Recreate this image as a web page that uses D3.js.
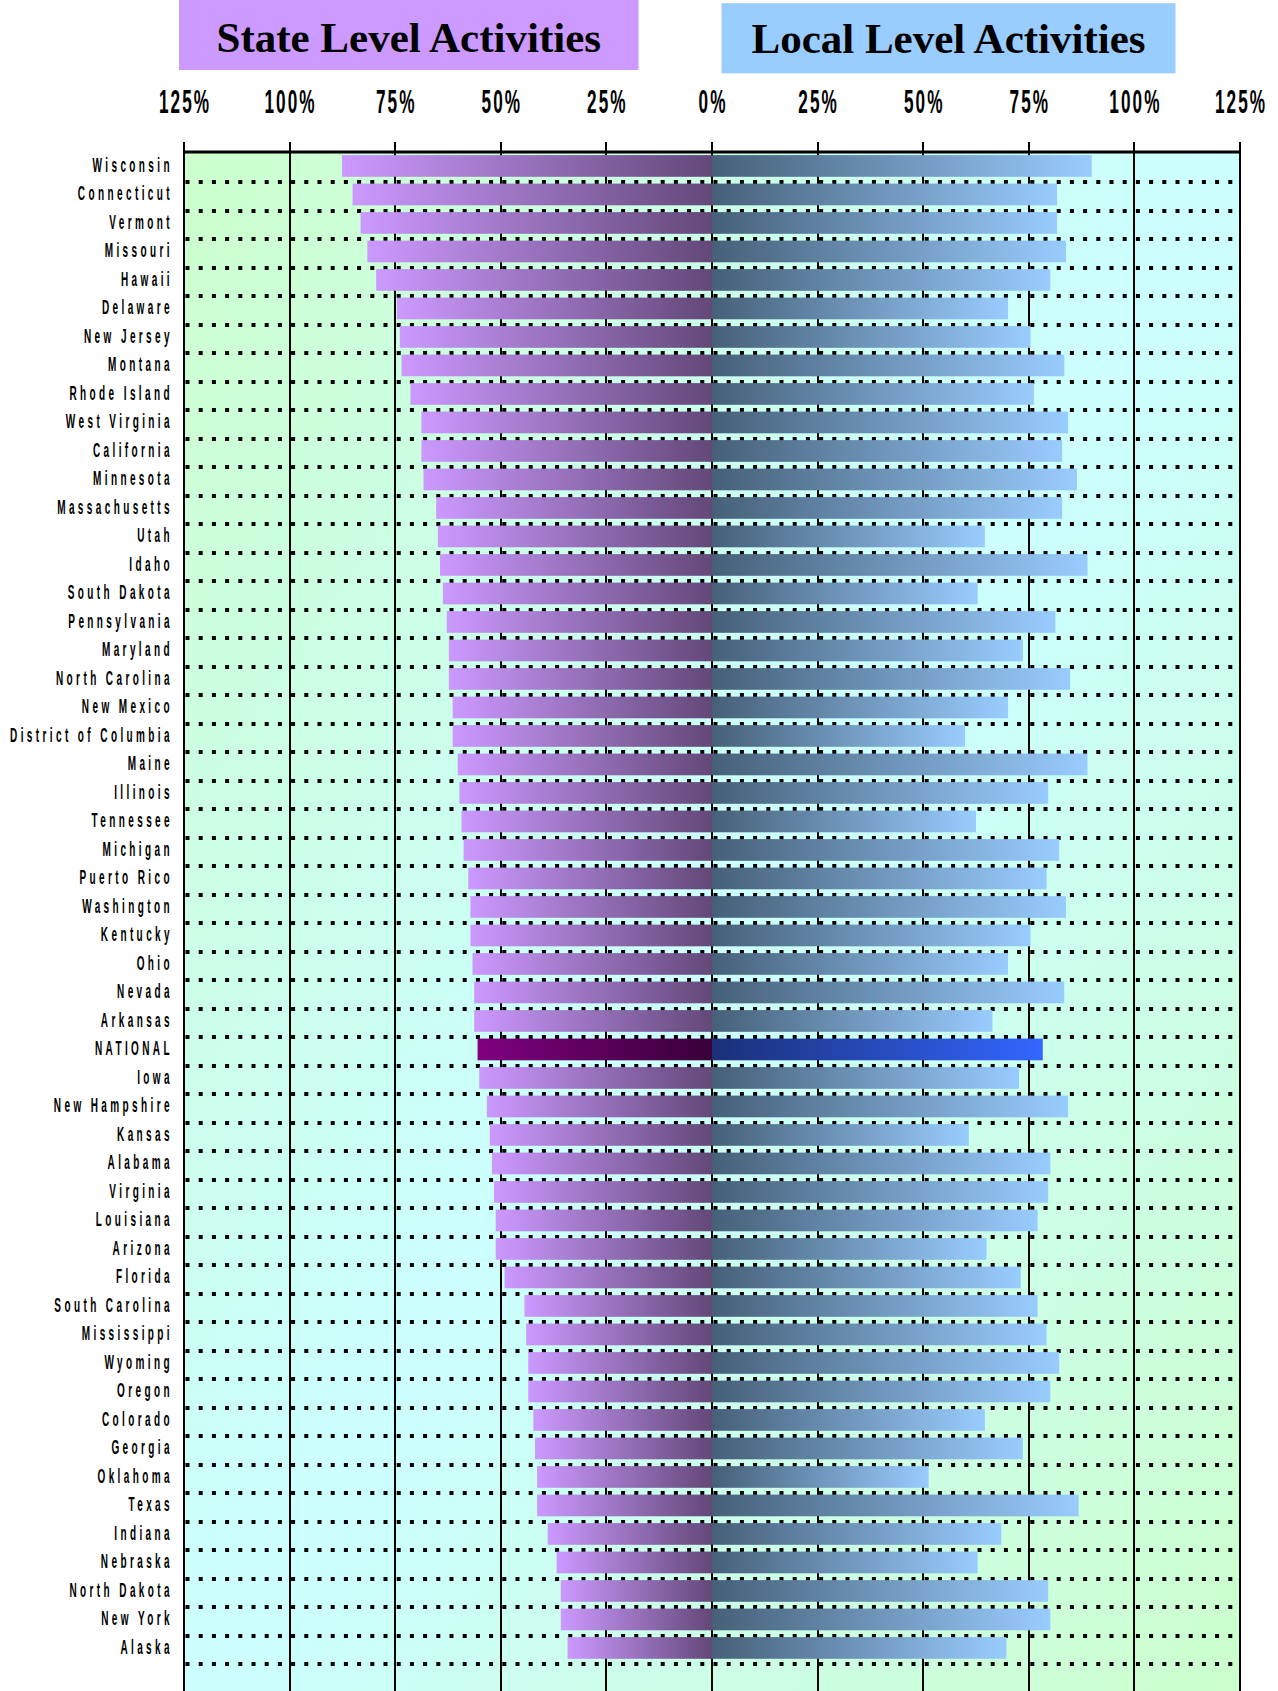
<!DOCTYPE html>
<html>
<head>
<meta charset="utf-8">
<script src="https://cdn.jsdelivr.net/npm/d3@7"></script>
<style>
  body { margin: 0; background: #ffffff; }
  svg { display: block; }
</style>
</head>
<body>
<svg id="chart"></svg>
<script>
// Rows, top to bottom
var states = ["Wisconsin", "Connecticut", "Vermont", "Missouri", "Hawaii", "Delaware", "New Jersey",
    "Montana", "Rhode Island", "West Virginia", "California", "Minnesota", "Massachusetts", "Utah",
    "Idaho", "South Dakota", "Pennsylvania", "Maryland", "North Carolina", "New Mexico",
    "District of Columbia", "Maine", "Illinois", "Tennessee", "Michigan", "Puerto Rico", "Washington",
    "Kentucky", "Ohio", "Nevada", "Arkansas", "NATIONAL", "Iowa", "New Hampshire", "Kansas", "Alabama",
    "Virginia", "Louisiana", "Arizona", "Florida", "South Carolina", "Mississippi", "Wyoming", "Oregon",
    "Colorado", "Georgia", "Oklahoma", "Texas", "Indiana", "Nebraska", "North Dakota", "New York", "Alaska"];

// % of state level activities (drawn to the left)
var stateLevel = [87.6, 85.1, 83.2, 81.6, 79.5, 74.6, 73.9, 73.5, 71.4, 68.8, 68.8, 68.3, 65.3, 64.9,
    64.4, 63.7, 62.8, 62.3, 62.3, 61.4, 61.4, 60.2, 59.8, 59.3, 58.8, 57.7, 57.2,
    57.2, 56.7, 56.3, 56.3, 55.5, 55.1, 53.3, 52.6, 52.1, 51.6, 51.2, 51.2, 49.1, 44.4, 44.0, 43.5, 43.5,
    42.3, 41.9, 41.4, 41.4, 38.9, 36.8, 35.8, 35.8, 34.2];

// % of local level activities (drawn to the right)
var localLevel = [89.9, 81.7, 81.7, 83.8, 80.1, 70.1, 75.4, 83.4, 76.2, 84.3, 82.9, 86.4, 82.9, 64.6,
    88.9, 62.9, 81.3, 73.6, 84.8, 70.1, 59.9, 88.9, 79.6, 62.5, 82.2, 79.2, 83.8,
    75.4, 70.1, 83.4, 66.4, 78.3, 72.7, 84.3, 60.8, 80.1, 79.6, 77.1, 65.0, 73.1, 77.1, 79.2, 82.2, 80.1,
    64.6, 73.6, 51.3, 86.8, 68.5, 62.9, 79.6, 80.1, 69.7];

var tickValues = [-125, -100, -75, -50, -25, 0, 25, 50, 75, 100, 125];
var tickLabels = ["125%", "100%", "75%", "50%", "25%", "0%", "25%", "50%", "75%", "100%", "125%"];
var titles = ["State Level Activities", "Local Level Activities"];

var svgWidth = 1278, svgHeight = 1691;
var plotTop = 152, plotBottom = 1700;

var svg = d3.select('#chart')
    .attr('width', svgWidth)
    .attr('height', svgHeight);

var x = d3.scaleLinear().domain([-125, 125]).range([184, 1240]);
var y = d3.scaleBand().domain(states).range([153.8, 153.8 + 28.5 * states.length]);

var defs = svg.append('defs');

function addGradient(id, stops, x2, y2) {
    var g = defs.append('linearGradient')
        .attr('id', id)
        .attr('x1', 0).attr('y1', 0)
        .attr('x2', x2).attr('y2', y2);
    stops.forEach(function(s) {
        g.append('stop').attr('offset', s[0]).attr('stop-color', s[1]);
    });
}

addGradient('bg', [[0, '#ccffcc'], [0.5, '#ccffff'], [1, '#ccffcc']], 1, 1);
addGradient('stateGrad', [[0, '#cc99ff'], [1, '#634878']], 1, 0);
addGradient('localGrad', [[0, '#466078'], [1, '#99ccff']], 1, 0);
addGradient('stateNat', [[0, '#800080'], [1, '#380038']], 1, 0);
addGradient('localNat', [[0, '#1a3078'], [1, '#3366ff']], 1, 0);

// Plot background
svg.append('rect')
    .attr('x', x(-125))
    .attr('y', plotTop)
    .attr('width', x(125) - x(-125))
    .attr('height', plotBottom - plotTop)
    .attr('fill', 'url(#bg)');

// Vertical grid lines (with ticks above the axis)
svg.append('g').selectAll('line')
    .data(tickValues)
    .enter().append('line')
    .attr('x1', function(d) { return Math.round(x(d)); })
    .attr('x2', function(d) { return Math.round(x(d)); })
    .attr('y1', plotTop - 10)
    .attr('y2', plotBottom)
    .attr('stroke', '#000')
    .attr('stroke-width', 2);

// Dotted row separators
svg.append('g').selectAll('line')
    .data(states)
    .enter().append('line')
    .attr('x1', x(-125) + 1.5)
    .attr('x2', x(125))
    .attr('y1', function(d) { return Math.round(y(d) + y.bandwidth()); })
    .attr('y2', function(d) { return Math.round(y(d) + y.bandwidth()); })
    .attr('stroke', '#000')
    .attr('stroke-width', 4)
    .attr('stroke-dasharray', '4 9.2');

var rows = states.map(function(s, i) {
    return { name: s, state: stateLevel[i], local: localLevel[i] };
});

var barH = 21.7, barOff = 1.3;

// State level bars (left)
svg.append('g').selectAll('rect')
    .data(rows)
    .enter().append('rect')
    .attr('x', function(d) { return x(-d.state); })
    .attr('y', function(d) { return y(d.name) + barOff; })
    .attr('width', function(d) { return x(0) - x(-d.state); })
    .attr('height', barH)
    .attr('fill', function(d) { return d.name === 'NATIONAL' ? 'url(#stateNat)' : 'url(#stateGrad)'; });

// Local level bars (right)
svg.append('g').selectAll('rect')
    .data(rows)
    .enter().append('rect')
    .attr('x', x(0))
    .attr('y', function(d) { return y(d.name) + barOff; })
    .attr('width', function(d) { return x(d.local) - x(0); })
    .attr('height', barH)
    .attr('fill', function(d) { return d.name === 'NATIONAL' ? 'url(#localNat)' : 'url(#localGrad)'; });

// Top axis line
svg.append('line')
    .attr('x1', x(-125) - 1)
    .attr('x2', x(125) + 1)
    .attr('y1', plotTop)
    .attr('y2', plotTop)
    .attr('stroke', '#000')
    .attr('stroke-width', 3);

// Tick labels
svg.append('g').selectAll('text')
    .data(tickValues)
    .enter().append('text')
    .attr('transform', function(d) { return 'translate(' + (x(d) + 1) + ',113.3) scale(0.52,1)'; })
    .attr('text-anchor', 'middle')
    .style('font-family', '"Liberation Sans", Arial, sans-serif')
    .style('font-weight', 'bold')
    .style('font-size', '33px')
    .style('letter-spacing', '4px')
    .text(function(d, i) { return tickLabels[i]; });

// Row labels
svg.append('g').selectAll('text')
    .data(states)
    .enter().append('text')
    .attr('transform', function(d) { return 'translate(173,' + (y(d) + 18) + ') scale(0.5,1)'; })
    .attr('text-anchor', 'end')
    .style('font-family', '"Liberation Sans", Arial, sans-serif')
    .style('font-weight', 'bold')
    .style('font-size', '20px')
    .style('letter-spacing', '6.8px')
    .text(function(d) { return d; });

// Header boxes
var headers = [
    { text: titles[0], x: 179, y: 0, w: 459.5, h: 70, fill: '#cc99ff', base: 51.7 },
    { text: titles[1], x: 721.5, y: 3.2, w: 454, h: 70.1, fill: '#99ccff', base: 53.3 }
];

svg.append('g').selectAll('rect')
    .data(headers)
    .enter().append('rect')
    .attr('x', function(d) { return d.x; })
    .attr('y', function(d) { return d.y; })
    .attr('width', function(d) { return d.w; })
    .attr('height', function(d) { return d.h; })
    .attr('fill', function(d) { return d.fill; });

svg.append('g').selectAll('text')
    .data(headers)
    .enter().append('text')
    .attr('x', function(d) { return d.x + d.w / 2; })
    .attr('y', function(d) { return d.base; })
    .attr('text-anchor', 'middle')
    .style('font-family', '"Liberation Serif", "Times New Roman", serif')
    .style('font-weight', 'bold')
    .style('font-size', '43px')
    .text(function(d) { return d.text; });
</script>
</body>
</html>
